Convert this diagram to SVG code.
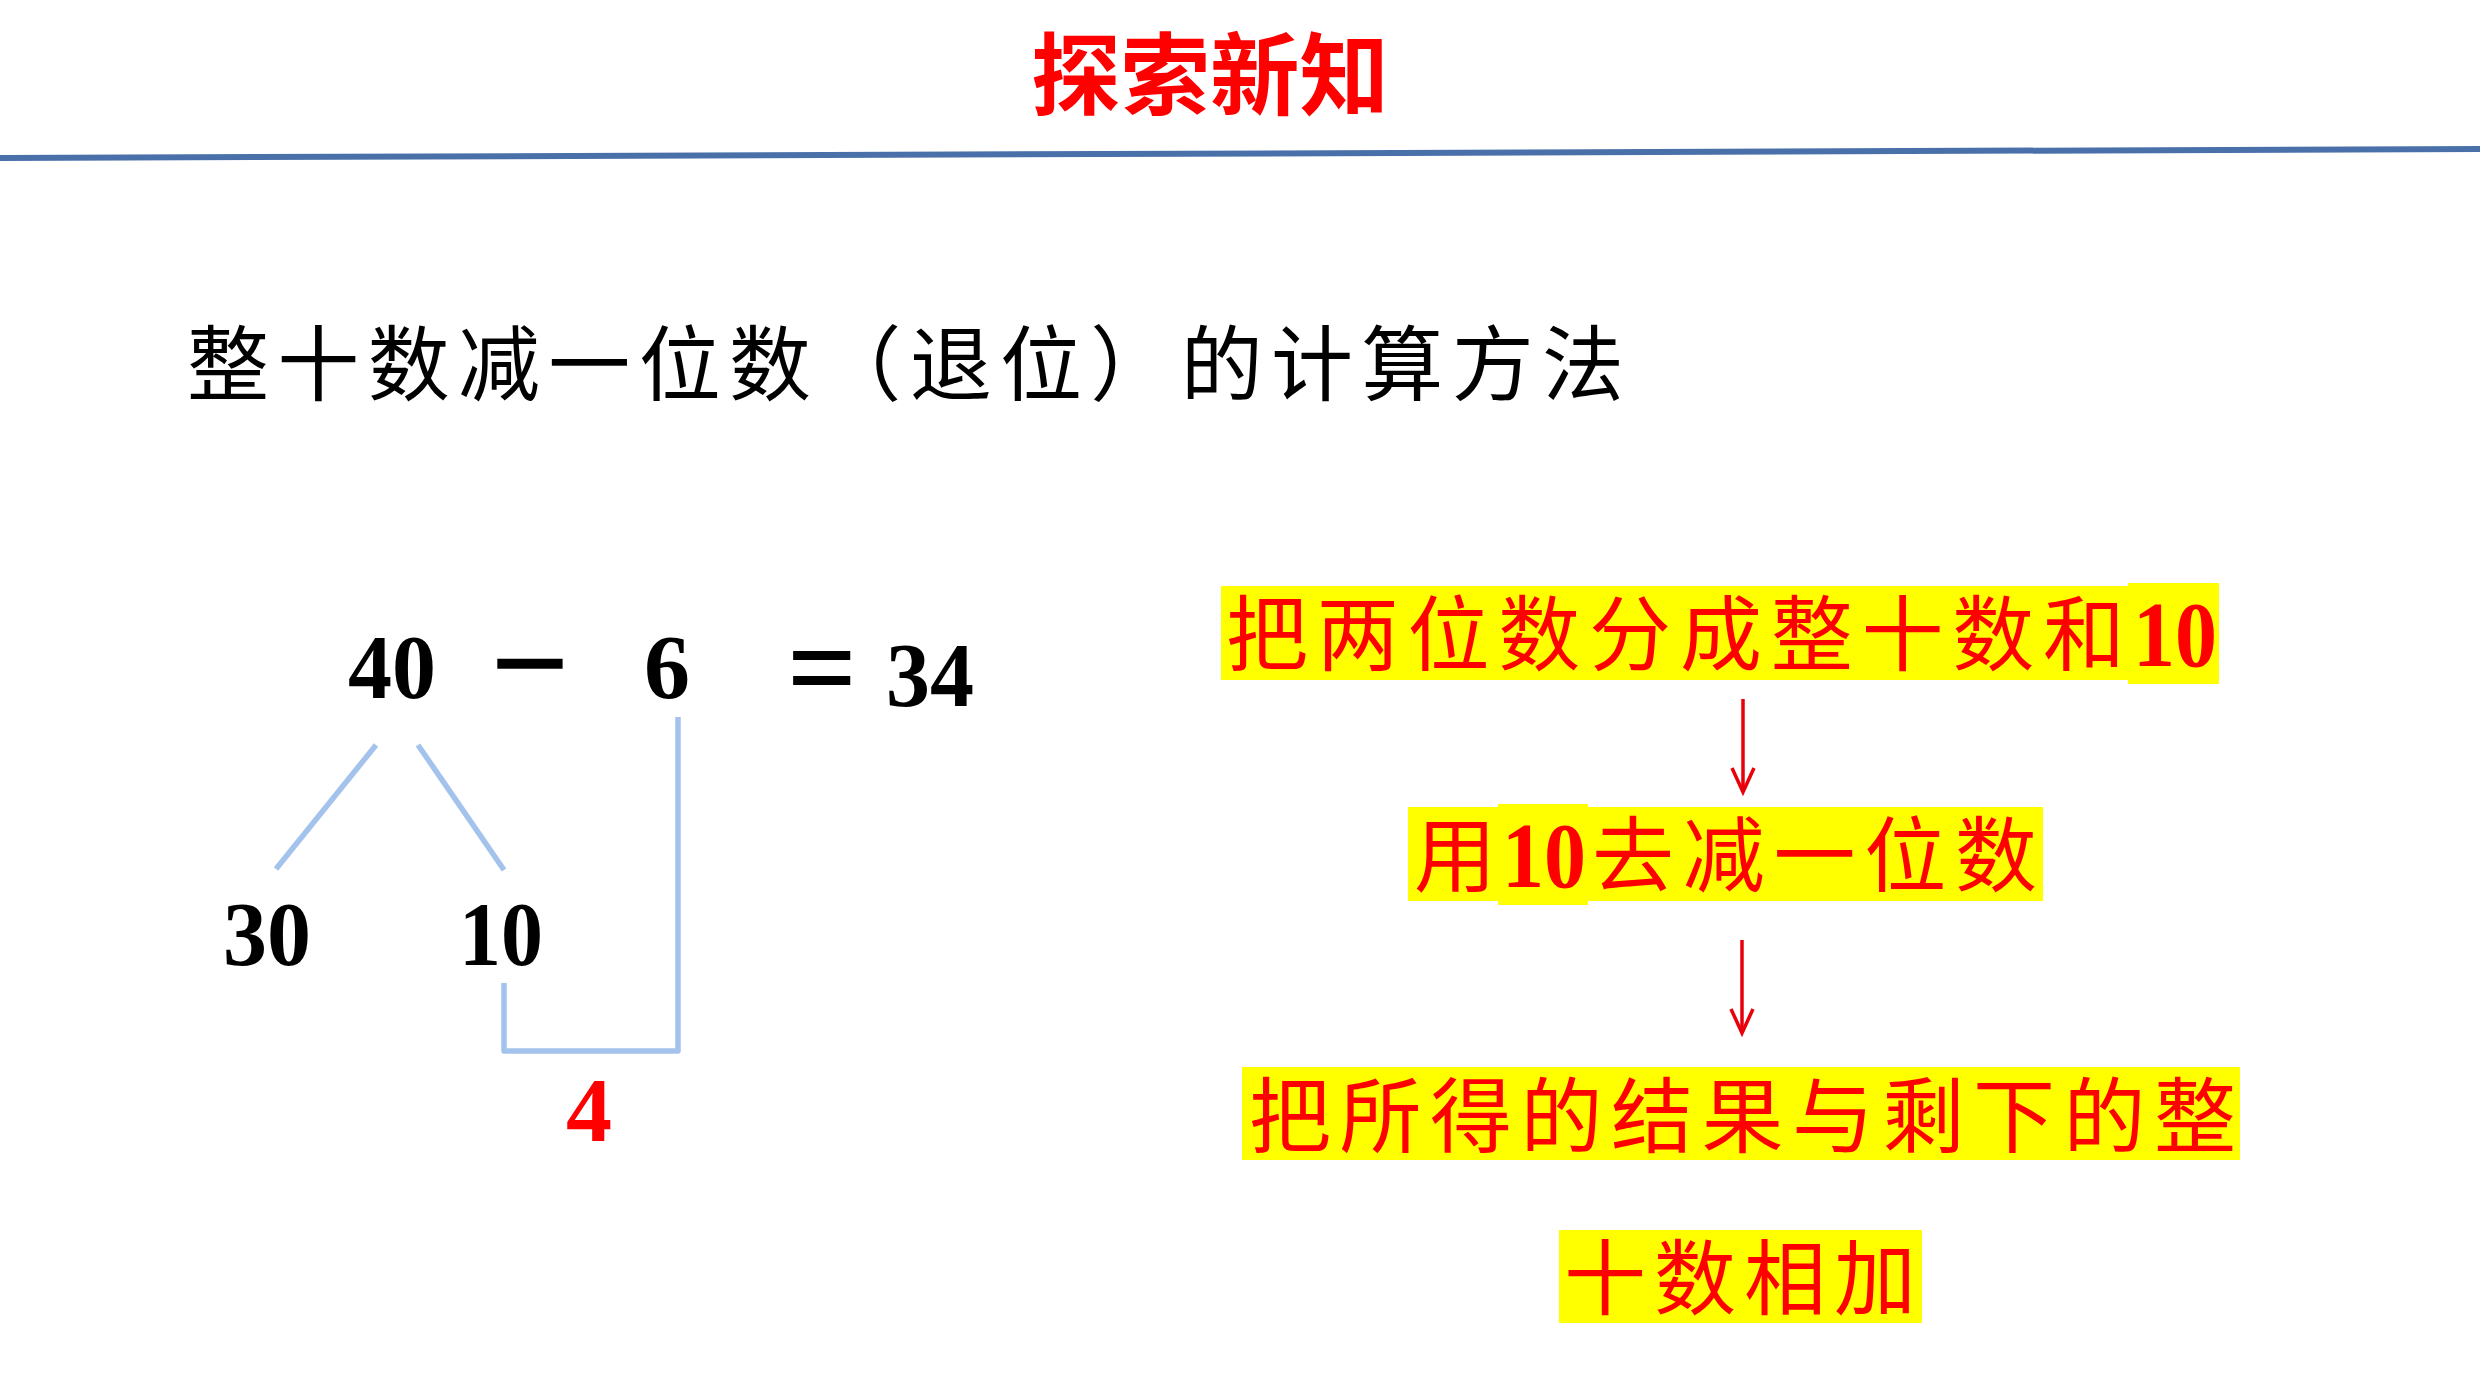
<svg xmlns="http://www.w3.org/2000/svg" width="2480" height="1395" viewBox="0 0 2480 1395">
<style>
.cjk{font-family:"Noto Sans CJK SC","Noto Sans",sans-serif}
.num{font-family:"Liberation Serif","Times New Roman",serif;font-weight:bold}
.red{fill:#FF0000}
.blk{fill:#000000}
.hl{fill:#FFFF00}
.bl{stroke:#A4C3EC;stroke-width:5.5;fill:none;stroke-linecap:butt;stroke-linejoin:round}
.ar{stroke:#E8000B;stroke-width:3.5;fill:none}
</style>
<defs>
<marker id="chev" markerUnits="userSpaceOnUse" viewBox="-26 -13 28 26" refX="0" refY="0" markerWidth="28" markerHeight="26" orient="auto" overflow="visible">
<path d="M-24,-11 L0,0 L-24,11" fill="none" stroke="#E8000B" stroke-width="3.5"/>
</marker>
</defs>
<rect x="0" y="0" width="2480" height="1395" fill="#FFFFFF"/>
<g id="title">
<text class="cjk red" x="1031" y="108" font-size="90" font-weight="bold" textLength="358" lengthAdjust="spacingAndGlyphs">探索新知</text>
</g>
<g id="header-rule">
<line x1="0" y1="158" x2="2480" y2="149" stroke="#4A70AA" stroke-width="6"/>
</g>
<g id="heading">
<text class="cjk blk" x="187" y="394" font-size="82" textLength="1437" lengthAdjust="spacing">整十数减一位数（退位）的计算方法</text>
</g>
<g id="equation">
<text class="num blk" x="348" y="698" font-size="92" textLength="88" lengthAdjust="spacingAndGlyphs">40</text>
<text class="num blk" x="491" y="704" font-size="122" textLength="78" lengthAdjust="spacingAndGlyphs" stroke="#000000" stroke-width="1.5">−</text>
<text class="num blk" x="644" y="698" font-size="92">6</text>
<text class="num blk" x="787" y="710" font-size="128" textLength="70" lengthAdjust="spacingAndGlyphs">=</text>
<text class="num blk" x="886" y="706" font-size="92" textLength="88" lengthAdjust="spacingAndGlyphs">34</text>
</g>
<g id="node-30">
<text class="num blk" x="223" y="965" font-size="92" textLength="88" lengthAdjust="spacingAndGlyphs">30</text>
</g>
<g id="node-10">
<text class="num blk" x="459" y="965" font-size="92" textLength="84" lengthAdjust="spacingAndGlyphs">10</text>
</g>
<g id="node-4">
<text class="num red" x="566" y="1141" font-size="92">4</text>
</g>
<g id="step1">
<rect class="hl" x="1221" y="586" width="998" height="94"/>
<rect class="hl" x="2128" y="583" width="91" height="101"/>
<text class="cjk red" x="1226" y="664" font-size="82" textLength="899" lengthAdjust="spacing">把两位数分成整十数和</text>
<text class="num red" x="2133" y="666" font-size="94" textLength="84" lengthAdjust="spacingAndGlyphs">10</text>
</g>
<g id="step2">
<rect class="hl" x="1408" y="807" width="635" height="94"/>
<rect class="hl" x="1498" y="804" width="90" height="101"/>
<text class="cjk red" x="1414" y="885" font-size="82">用</text>
<text class="num red" x="1502" y="887" font-size="94" textLength="84" lengthAdjust="spacingAndGlyphs">10</text>
<text class="cjk red" x="1592" y="885" font-size="82" textLength="445" lengthAdjust="spacing">去减一位数</text>
</g>
<g id="step3">
<rect class="hl" x="1242" y="1067" width="998" height="93"/>
<text class="cjk red" x="1249" y="1146" font-size="82" textLength="987" lengthAdjust="spacing">把所得的结果与剩下的整</text>
</g>
<g id="step3b">
<rect class="hl" x="1559" y="1230" width="363" height="93"/>
<text class="cjk red" x="1564" y="1308" font-size="82" textLength="352" lengthAdjust="spacing">十数相加</text>
</g>
<g id="connectors">
<line class="bl" x1="376" y1="745" x2="276" y2="869"/>
<line class="bl" x1="418" y1="745" x2="504" y2="870"/>
<polyline class="bl" points="504,983 504,1051 678,1051 678,717"/>
<line class="ar" x1="1743" y1="699" x2="1743" y2="792" marker-end="url(#chev)"/>
<line class="ar" x1="1742" y1="940" x2="1742" y2="1033" marker-end="url(#chev)"/>
</g>
</svg>
